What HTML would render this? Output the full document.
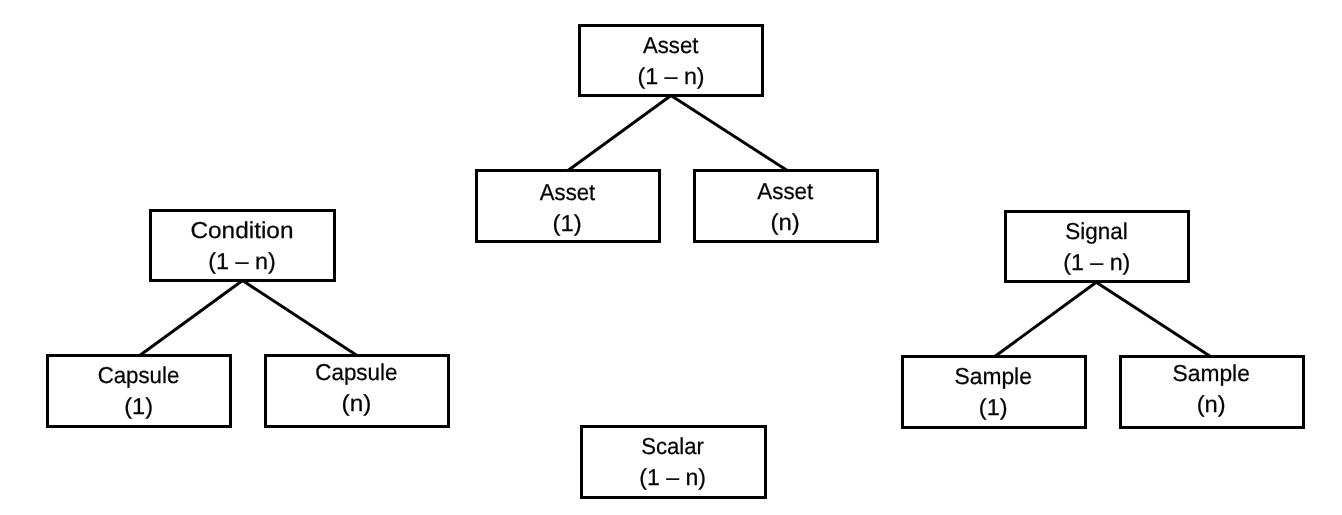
<!DOCTYPE html><html><head><meta charset="utf-8"><style>html,body{margin:0;padding:0;background:#fff;}svg{display:block;} .t{opacity:0.995}</style></head><body>
<svg width="1342" height="515" viewBox="0 0 1342 515">
<rect x="0" y="0" width="1342" height="515" fill="#fff"/>
<line x1="671" y1="95.5" x2="568" y2="170.5" stroke="#000" stroke-width="3"/>
<line x1="671" y1="95.5" x2="787.3" y2="170.5" stroke="#000" stroke-width="3"/>
<line x1="242.5" y1="280.5" x2="139.7" y2="355.5" stroke="#000" stroke-width="3"/>
<line x1="242.5" y1="280.5" x2="357" y2="355.5" stroke="#000" stroke-width="3"/>
<line x1="1096.6" y1="282" x2="994.8" y2="356.5" stroke="#000" stroke-width="3"/>
<line x1="1096.6" y1="282.5" x2="1211.3" y2="357" stroke="#000" stroke-width="3"/>
<rect x="579.5" y="25.5" width="183" height="70" fill="none" stroke="#000" stroke-width="3"/>
<rect x="476.5" y="170.5" width="183" height="71" fill="none" stroke="#000" stroke-width="3"/>
<rect x="694.5" y="170.5" width="183" height="71" fill="none" stroke="#000" stroke-width="3"/>
<rect x="150.5" y="210.5" width="184" height="70" fill="none" stroke="#000" stroke-width="3"/>
<rect x="47.5" y="355.5" width="183" height="71" fill="none" stroke="#000" stroke-width="3"/>
<rect x="265.5" y="355.5" width="183" height="71" fill="none" stroke="#000" stroke-width="3"/>
<rect x="581.5" y="426.5" width="184" height="71" fill="none" stroke="#000" stroke-width="3"/>
<rect x="1005.5" y="211.5" width="183" height="70" fill="none" stroke="#000" stroke-width="3"/>
<rect x="902.5" y="356.5" width="183" height="71" fill="none" stroke="#000" stroke-width="3"/>
<rect x="1120.5" y="356.5" width="183" height="71" fill="none" stroke="#000" stroke-width="3"/>
<g class="t">
<text x="0" y="0" transform="translate(670.69,52.90) scale(0.9628,1)" text-anchor="middle" font-family="Liberation Sans, sans-serif" font-size="23" text-rendering="geometricPrecision" fill="#000" stroke="#000" stroke-width="0.25">Asset</text>
<text x="0" y="0" transform="translate(670.99,83.80) scale(1.0110,1)" text-anchor="middle" font-family="Liberation Sans, sans-serif" font-size="23" text-rendering="geometricPrecision" fill="#000" stroke="#000" stroke-width="0.25">(1 – n)</text>
<text x="0" y="0" transform="translate(567.49,199.90) scale(0.9628,1)" text-anchor="middle" font-family="Liberation Sans, sans-serif" font-size="23" text-rendering="geometricPrecision" fill="#000" stroke="#000" stroke-width="0.25">Asset</text>
<text x="0" y="0" transform="translate(567.08,231.00) scale(1.0431,1)" text-anchor="middle" font-family="Liberation Sans, sans-serif" font-size="23" text-rendering="geometricPrecision" fill="#000" stroke="#000" stroke-width="0.25">(1)</text>
<text x="0" y="0" transform="translate(785.29,199.00) scale(0.9733,1)" text-anchor="middle" font-family="Liberation Sans, sans-serif" font-size="23" text-rendering="geometricPrecision" fill="#000" stroke="#000" stroke-width="0.25">Asset</text>
<text x="0" y="0" transform="translate(785.18,230.00) scale(1.0431,1)" text-anchor="middle" font-family="Liberation Sans, sans-serif" font-size="23" text-rendering="geometricPrecision" fill="#000" stroke="#000" stroke-width="0.25">(n)</text>
<text x="0" y="0" transform="translate(241.96,238.00) scale(1.0608,1)" text-anchor="middle" font-family="Liberation Sans, sans-serif" font-size="23" text-rendering="geometricPrecision" fill="#000" stroke="#000" stroke-width="0.25">Condition</text>
<text x="0" y="0" transform="translate(242.04,269.00) scale(1.0157,1)" text-anchor="middle" font-family="Liberation Sans, sans-serif" font-size="23" text-rendering="geometricPrecision" fill="#000" stroke="#000" stroke-width="0.25">(1 – n)</text>
<text x="0" y="0" transform="translate(138.49,382.80) scale(0.9675,1)" text-anchor="middle" font-family="Liberation Sans, sans-serif" font-size="23" text-rendering="geometricPrecision" fill="#000" stroke="#000" stroke-width="0.25">Capsule</text>
<text x="0" y="0" transform="translate(138.64,414.00) scale(1.0234,1)" text-anchor="middle" font-family="Liberation Sans, sans-serif" font-size="23" text-rendering="geometricPrecision" fill="#000" stroke="#000" stroke-width="0.25">(1)</text>
<text x="0" y="0" transform="translate(356.34,379.80) scale(0.9736,1)" text-anchor="middle" font-family="Liberation Sans, sans-serif" font-size="23" text-rendering="geometricPrecision" fill="#000" stroke="#000" stroke-width="0.25">Capsule</text>
<text x="0" y="0" transform="translate(356.48,411.00) scale(1.0589,1)" text-anchor="middle" font-family="Liberation Sans, sans-serif" font-size="23" text-rendering="geometricPrecision" fill="#000" stroke="#000" stroke-width="0.25">(n)</text>
<text x="0" y="0" transform="translate(672.60,453.80) scale(0.9625,1)" text-anchor="middle" font-family="Liberation Sans, sans-serif" font-size="23" text-rendering="geometricPrecision" fill="#000" stroke="#000" stroke-width="0.25">Scalar</text>
<text x="0" y="0" transform="translate(672.59,485.00) scale(1.0047,1)" text-anchor="middle" font-family="Liberation Sans, sans-serif" font-size="23" text-rendering="geometricPrecision" fill="#000" stroke="#000" stroke-width="0.25">(1 – n)</text>
<text x="0" y="0" transform="translate(1096.60,238.80) scale(0.9779,1)" text-anchor="middle" font-family="Liberation Sans, sans-serif" font-size="23" text-rendering="geometricPrecision" fill="#000" stroke="#000" stroke-width="0.25">Signal</text>
<text x="0" y="0" transform="translate(1096.74,270.00) scale(1.0094,1)" text-anchor="middle" font-family="Liberation Sans, sans-serif" font-size="23" text-rendering="geometricPrecision" fill="#000" stroke="#000" stroke-width="0.25">(1 – n)</text>
<text x="0" y="0" transform="translate(993.17,383.80) scale(0.9918,1)" text-anchor="middle" font-family="Liberation Sans, sans-serif" font-size="23" text-rendering="geometricPrecision" fill="#000" stroke="#000" stroke-width="0.25">Sample</text>
<text x="0" y="0" transform="translate(993.24,415.00) scale(1.0234,1)" text-anchor="middle" font-family="Liberation Sans, sans-serif" font-size="23" text-rendering="geometricPrecision" fill="#000" stroke="#000" stroke-width="0.25">(1)</text>
<text x="0" y="0" transform="translate(1211.17,380.80) scale(0.9918,1)" text-anchor="middle" font-family="Liberation Sans, sans-serif" font-size="23" text-rendering="geometricPrecision" fill="#000" stroke="#000" stroke-width="0.25">Sample</text>
<text x="0" y="0" transform="translate(1211.13,412.00) scale(1.0313,1)" text-anchor="middle" font-family="Liberation Sans, sans-serif" font-size="23" text-rendering="geometricPrecision" fill="#000" stroke="#000" stroke-width="0.25">(n)</text>
</g>
</svg></body></html>
